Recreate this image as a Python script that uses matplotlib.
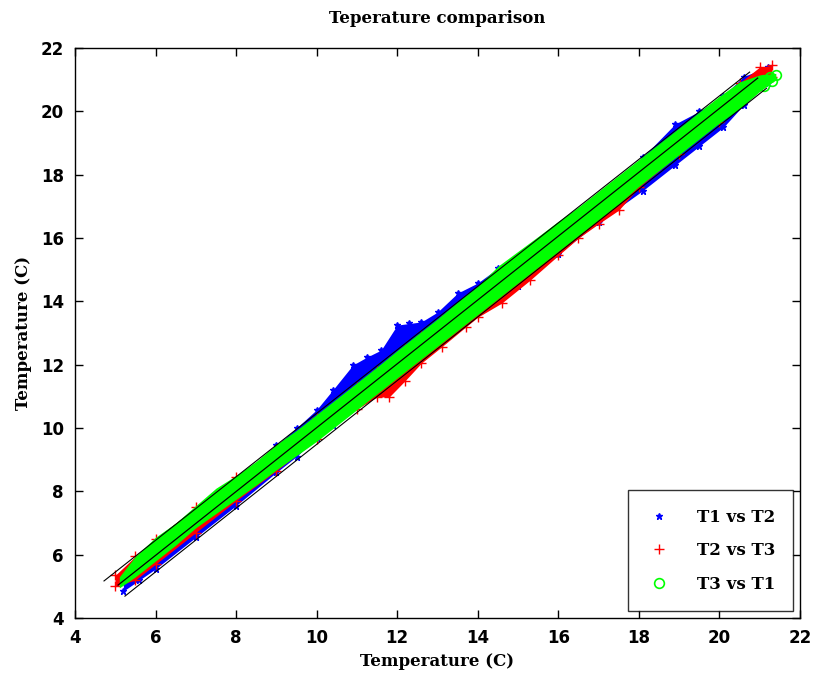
import numpy as np
import matplotlib
matplotlib.use('Agg')
import matplotlib.pyplot as plt

# band: x positions with lower / upper edge of each series
gx = [5.1, 5.5, 6.0, 6.5, 7.0, 7.5, 8.0, 8.5, 9.0, 9.5, 10.0, 10.5, 11.0, 11.5, 12.0, 12.5, 13.0,
      13.5, 14.0, 14.5, 15.0, 15.5, 16.0, 16.5, 17.0, 17.5, 18.0, 18.5, 19.0, 19.5, 20.0, 20.5, 21.0, 21.4]
g_hi = [5.3, 5.95, 6.55, 7.0, 7.55, 8.1, 8.5, 8.95, 9.48, 9.93, 10.43, 10.93, 11.43, 11.93, 12.45, 12.95, 13.45,
        13.98, 14.48, 15.11, 15.58, 16.05, 16.53, 16.98, 17.48, 17.98, 18.48, 18.98, 19.48, 19.98, 20.48, 20.93, 21.15, 21.2]
g_lo = [4.95, 5.3, 5.8, 6.3, 6.85, 7.3, 7.75, 8.2, 8.68, 9.13, 9.58, 10.08, 10.58, 11.08, 11.58, 12.08, 12.58,
        13.08, 13.58, 14.08, 14.58, 15.08, 15.58, 16.08, 16.58, 17.08, 17.63, 18.13, 18.63, 19.13, 19.63, 20.08, 20.63, 21.0]
# loose green circles at the upper end of the band
g_end_x = [20.7, 20.95, 21.1, 21.25, 21.4, 21.1, 21.3]
g_end_y = [20.7, 20.85, 21.0, 21.1, 21.15, 20.8, 20.95]

bx = [5.2, 5.6, 6.0, 7.0, 8.0, 9.0, 9.5, 10.0, 10.4, 10.9, 11.25, 11.6, 12.0, 12.3, 12.6, 13.0, 13.5, 14.0,
      14.5, 15.0, 16.0, 17.0, 18.1, 18.9, 19.5, 20.1, 20.6, 21.2]
b_hi = [5.3, 5.8, 6.3, 7.2, 8.3, 9.45, 10.0, 10.58, 11.2, 11.99, 12.24, 12.46, 13.25, 13.3, 13.35, 13.66, 14.26, 14.58,
        15.05, 15.3, 16.3, 17.3, 18.56, 19.6, 20.0, 20.5, 21.1, 21.4]
b_lo = [4.85, 5.2, 5.55, 6.55, 7.55, 8.6, 9.1, 9.7, 10.1, 10.7, 11.0, 11.4, 11.8, 12.1, 12.4, 12.8, 13.3, 13.7,
        14.1, 14.5, 15.5, 16.5, 17.5, 18.3, 18.9, 19.5, 20.2, 20.9]

rx = [5.0, 5.5, 6.0, 7.0, 8.0, 9.0, 10.0, 11.0, 11.5, 11.8, 12.2, 12.6, 13.1, 13.7, 14.0, 14.6, 15.3, 16.0,
      16.5, 17.0, 17.5, 18.0, 19.0, 20.0, 20.5, 21.0, 21.3]
r_hi = [5.35, 5.95, 6.5, 7.5, 8.45, 9.35, 10.3, 11.3, 11.8, 12.1, 12.5, 12.9, 13.4, 14.0, 14.3, 14.9, 15.6, 16.3,
        16.8, 17.3, 17.8, 18.3, 19.3, 20.3, 20.9, 21.4, 21.45]
r_lo = [5.0, 5.2, 5.7, 6.7, 7.7, 8.65, 9.65, 10.6, 10.98, 10.98, 11.5, 12.05, 12.56, 13.19, 13.5, 13.95, 14.67, 15.45,
        16.0, 16.45, 16.88, 17.6, 18.65, 19.65, 20.3, 20.8, 21.1]

# fitted line and bounds (end points)
fit_x = [5.07, 20.95]
fit_y = [5.04, 21.05]
up_x = [4.72, 20.75]
up_y = [5.17, 21.24]
low_x = [5.24, 21.17]
low_y = [4.69, 20.73]

ticks = list(range(4, 23, 2))

serif = {'family': 'DejaVu Serif', 'weight': 'bold', 'size': 12}

fig = plt.figure(figsize=(8.14, 6.92), dpi=100)
ax = fig.add_axes([75 / 814, 1 - 618 / 692, 725 / 814, 570 / 692])

ax.fill_between(bx, b_lo, b_hi, color='#0000ff', lw=0, zorder=1.0)
ax.plot(bx + bx, b_hi + b_lo, '*', color='#0000ff', ms=5, ls='none', label='T1 vs T2', zorder=1.1)
ax.fill_between(rx, r_lo, r_hi, color='#ff0000', lw=0, zorder=1.2)
ax.plot(rx + rx, r_hi + r_lo, '+', color='#ff0000', ms=7, mew=1.0, ls='none', label='T2 vs T3', zorder=1.3)
ax.fill_between(gx, g_lo, g_hi, color='#00ff00', lw=0, zorder=1.4)
ax.plot(g_end_x, g_end_y, 'o', color='#00ff00', mfc='none', ms=7, mew=1.2, ls='none', label='T3 vs T1', zorder=1.5)

ax.plot(fit_x, fit_y, color='black', lw=0.9, zorder=2)
ax.plot(up_x, up_y, color='black', lw=0.8, zorder=2)
ax.plot(low_x, low_y, color='black', lw=0.8, zorder=2)

ax.set_xlim(4, 22)
ax.set_ylim(4, 22)
ax.set_xticks(ticks)
ax.set_yticks(ticks)
ax.tick_params(direction='in', top=True, right=True, length=6, width=1, pad=8)
for lab in ax.get_xticklabels() + ax.get_yticklabels():
    lab.set_fontfamily('DejaVu Sans')
    lab.set_fontweight('bold')
    lab.set_fontsize(12)
for s in ax.spines.values():
    s.set_linewidth(1)

ax.set_title('Teperature comparison', fontdict=serif, pad=18)
ax.set_xlabel('Temperature (C)', fontdict=serif, labelpad=4)
ax.set_ylabel('Temperature (C)', fontdict=serif, labelpad=6)

leg = ax.legend(loc='lower right', numpoints=1, prop=serif, fancybox=False, edgecolor='black',
                labelspacing=1.0, handlelength=1.5, handletextpad=1.5, borderpad=1.1, borderaxespad=0.4)
leg.get_frame().set_linewidth(1)

fig.savefig('out.png', dpi=100)
